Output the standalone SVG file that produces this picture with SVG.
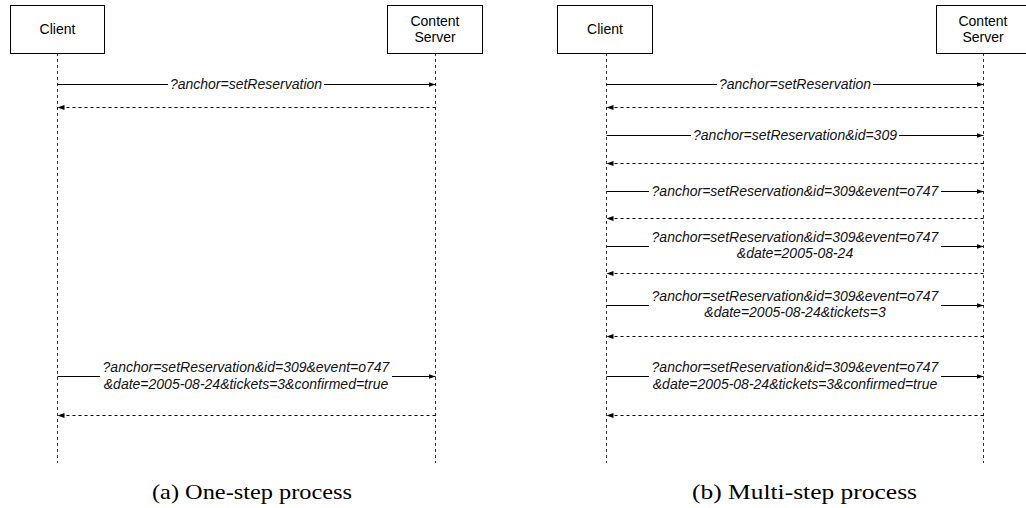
<svg xmlns="http://www.w3.org/2000/svg" width="1026" height="508" viewBox="0 0 1026 508">
  <style>
    .box { fill: #ffffff; stroke: #000000; stroke-width: 1; }
    .name { font-family: "Liberation Sans", Arial, sans-serif; font-size: 14px; fill: #000000; text-anchor: middle; }
    .life { stroke: #333333; stroke-width: 1; stroke-dasharray: 3 3; fill: none; }
    .call { stroke: #000000; stroke-width: 1; fill: none; marker-end: url(#head); }
    .reply { stroke: #000000; stroke-width: 1; stroke-dasharray: 3 3; fill: none; marker-end: url(#head); }
    .lbl { font-family: "Liberation Sans", Arial, sans-serif; font-size: 14px; font-style: italic; fill: #111111; text-anchor: middle; }
    .bg { fill: #ffffff; stroke: none; }
    .cap { font-family: "Liberation Serif", "Times New Roman", serif; font-size: 21px; fill: #000000; text-anchor: middle; }
  </style>
  <defs>
    <marker id="head" markerUnits="userSpaceOnUse" markerWidth="8" markerHeight="8" viewBox="0 0 8 8" refX="7" refY="4" orient="auto">
      <path d="M0,1.5 L7,4 L0,6.5 z" fill="#000000"/>
    </marker>
  </defs>
  <rect width="1026" height="508" fill="#ffffff"/>

  <!-- lifelines -->
  <g id="lifelines">
    <line class="life" x1="57.5" y1="53" x2="57.5" y2="463"/>
    <line class="life" x1="435.5" y1="53" x2="435.5" y2="463"/>
    <line class="life" x1="606.5" y1="53" x2="606.5" y2="463"/>
    <line class="life" x1="983.5" y1="53" x2="983.5" y2="463"/>
  </g>

  <!-- participants, one-step panel -->
  <g id="a-client">
    <rect class="box" x="10.5" y="5.5" width="94" height="48"/>
    <text class="name" x="57.5" y="34">Client</text>
  </g>
  <g id="a-server">
    <rect class="box" x="387.5" y="5.5" width="95" height="48"/>
    <text class="name" x="435" y="26">Content</text>
    <text class="name" x="435" y="42">Server</text>
  </g>

  <!-- participants, multi-step panel -->
  <g id="b-client">
    <rect class="box" x="557.5" y="5.5" width="95" height="48"/>
    <text class="name" x="605" y="34">Client</text>
  </g>
  <g id="b-server">
    <rect class="box" x="936.5" y="5.5" width="95" height="48"/>
    <text class="name" x="983" y="26">Content</text>
    <text class="name" x="983" y="42">Server</text>
  </g>

  <!-- messages -->
  <g id="connectors">
    <!-- one-step -->
    <line class="call" x1="57.5" y1="84.5" x2="435.5" y2="84.5"/>
    <rect class="bg" x="168" y="76" width="156" height="17"/>
    <text class="lbl" x="246" y="89">?anchor=setReservation</text>
    <line class="reply" x1="435.5" y1="107.5" x2="57.5" y2="107.5"/>

    <line class="call" x1="57.5" y1="376.5" x2="435.5" y2="376.5"/>
    <rect class="bg" x="100" y="359" width="292" height="34"/>
    <text class="lbl" x="246" y="372">?anchor=setReservation&amp;id=309&amp;event=o747</text>
    <text class="lbl" x="246" y="388.5">&amp;date=2005-08-24&amp;tickets=3&amp;confirmed=true</text>
    <line class="reply" x1="435.5" y1="415.5" x2="57.5" y2="415.5"/>

    <!-- multi-step -->
    <line class="call" x1="606.5" y1="84.5" x2="983.5" y2="84.5"/>
    <rect class="bg" x="717" y="76" width="156" height="17"/>
    <text class="lbl" x="795" y="89">?anchor=setReservation</text>
    <line class="reply" x1="983.5" y1="107.5" x2="606.5" y2="107.5"/>

    <line class="call" x1="606.5" y1="135.5" x2="983.5" y2="135.5"/>
    <rect class="bg" x="691" y="127" width="208" height="17"/>
    <text class="lbl" x="795" y="140">?anchor=setReservation&amp;id=309</text>
    <line class="reply" x1="983.5" y1="163.5" x2="606.5" y2="163.5"/>

    <line class="call" x1="606.5" y1="191.5" x2="983.5" y2="191.5"/>
    <rect class="bg" x="649" y="183" width="292" height="17"/>
    <text class="lbl" x="795" y="196">?anchor=setReservation&amp;id=309&amp;event=o747</text>
    <line class="reply" x1="983.5" y1="218.5" x2="606.5" y2="218.5"/>

    <line class="call" x1="606.5" y1="246.5" x2="983.5" y2="246.5"/>
    <rect class="bg" x="649" y="229" width="292" height="34"/>
    <text class="lbl" x="795" y="242">?anchor=setReservation&amp;id=309&amp;event=o747</text>
    <text class="lbl" x="795" y="258">&amp;date=2005-08-24</text>
    <line class="reply" x1="983.5" y1="273.5" x2="606.5" y2="273.5"/>

    <line class="call" x1="606.5" y1="305.5" x2="983.5" y2="305.5"/>
    <rect class="bg" x="649" y="288" width="292" height="34"/>
    <text class="lbl" x="795" y="301">?anchor=setReservation&amp;id=309&amp;event=o747</text>
    <text class="lbl" x="795" y="317">&amp;date=2005-08-24&amp;tickets=3</text>
    <line class="reply" x1="983.5" y1="336.5" x2="606.5" y2="336.5"/>

    <line class="call" x1="606.5" y1="376.5" x2="983.5" y2="376.5"/>
    <rect class="bg" x="649" y="359" width="292" height="34"/>
    <text class="lbl" x="795" y="372">?anchor=setReservation&amp;id=309&amp;event=o747</text>
    <text class="lbl" x="795" y="388.5">&amp;date=2005-08-24&amp;tickets=3&amp;confirmed=true</text>
    <line class="reply" x1="983.5" y1="415.5" x2="606.5" y2="415.5"/>
  </g>

  <!-- sub-figure captions -->
  <text class="cap" x="252" y="499" textLength="200" lengthAdjust="spacingAndGlyphs">(a) One-step process</text>
  <text class="cap" x="804.5" y="499" textLength="225" lengthAdjust="spacingAndGlyphs">(b) Multi-step process</text>
</svg>
